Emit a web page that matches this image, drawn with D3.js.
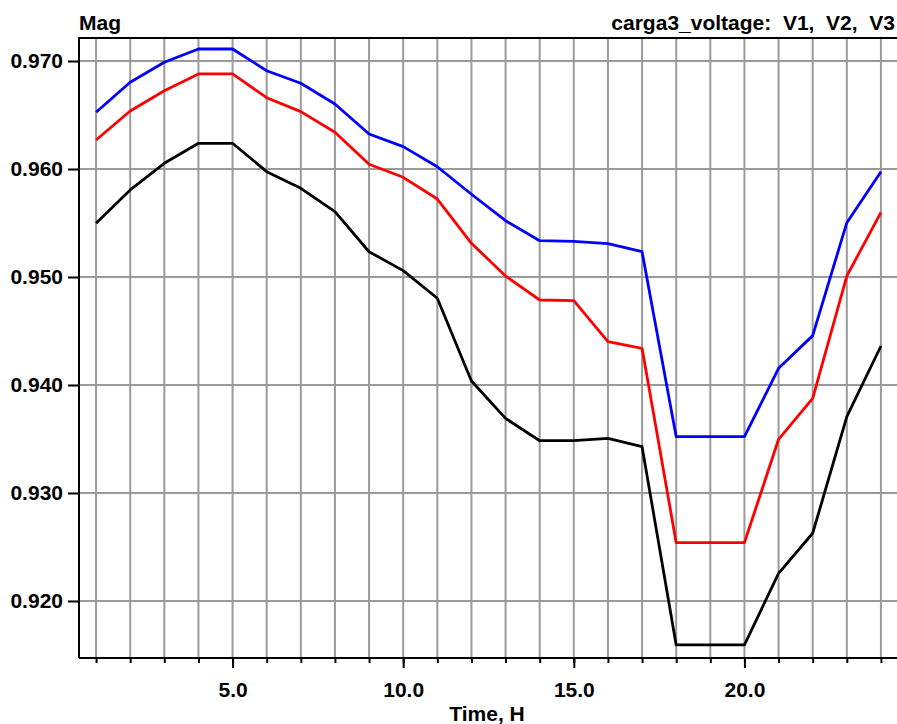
<!DOCTYPE html>
<html>
<head>
<meta charset="utf-8">
<script src="https://cdn.jsdelivr.net/npm/d3@7"></script>
<style>
  html, body { margin: 0; padding: 0; background: #fff; }
  svg { display: block; }
  text { font-family: "Liberation Sans", Arial, sans-serif; font-weight: bold; fill: #000; white-space: pre; }
</style>
</head>
<body>
<svg id="chart" width="897" height="724"></svg>
<script>
// ---- data ----
const hours = [1,2,3,4,5,6,7,8,9,10,11,12,13,14,15,16,17,18,19,20,21,22,23,24];
const v1 = [0.96525,0.96803,0.96988,0.97111,0.97111,0.96910,0.96794,0.96602,0.96324,0.96207,0.96021,0.95766,
            0.95521,0.95336,0.95330,0.95309,0.95234,0.93521,0.93521,0.93521,0.94154,0.94457,0.95503,0.95975];
const v2 = [0.96269,0.96537,0.96725,0.96880,0.96880,0.96660,0.96531,0.96340,0.96044,0.95923,0.95722,0.95312,
            0.95009,0.94787,0.94781,0.94401,0.94340,0.92540,0.92540,0.92540,0.93497,0.93877,0.95009,0.95599];
const v3 = [0.95497,0.95806,0.96053,0.96238,0.96238,0.95975,0.95821,0.95605,0.95234,0.95059,0.94803,0.94037,
            0.93691,0.93484,0.93484,0.93506,0.93429,0.91593,0.91593,0.91593,0.92256,0.92627,0.93707,0.94361];
const seriesNames = ["V1","V2","V3"];
const seriesColors = ["#0000ff","#ff0000","#000000"];
const yTicks = [0.920,0.930,0.940,0.950,0.960,0.970];
const xMajorTicks = [5,10,15,20];
const yLabel = "Mag";
const xLabel = "Time, H";
const title = "carga3_voltage:  V1,  V2,  V3";

// ---- layout ----
const L = 79, T = 38, R = 898, B = 658;
const svg = d3.select("#chart");
const x = d3.scaleLinear().domain([0.5, 24.5]).range([L, R]);
const y = d3.scaleLinear().domain([0.91472, 0.97213]).range([B, T]);

// grid
const grid = svg.append("g").attr("stroke", "#9a9a9a").attr("stroke-width", 2);
grid.selectAll("line.v").data(hours).enter().append("line")
  .attr("x1", d => x(d)).attr("x2", d => x(d)).attr("y1", T).attr("y2", B);
grid.selectAll("line.h").data(yTicks).enter().append("line")
  .attr("x1", L).attr("x2", R).attr("y1", d => y(d)).attr("y2", d => y(d));

// axes
const xAxisMinor = d3.axisBottom(x).tickValues(hours).tickSize(5).tickFormat("");
svg.append("g").attr("transform", `translate(0,${B})`).call(xAxisMinor)
  .call(g => g.select(".domain").remove())
  .call(g => g.selectAll("line").attr("stroke", "#000").attr("stroke-width", 2));
const xAxisMajor = d3.axisBottom(x).tickValues(xMajorTicks).tickSize(10).tickPadding(14)
  .tickFormat(d3.format(".1f"));
svg.append("g").attr("transform", `translate(0,${B})`).call(xAxisMajor)
  .call(g => g.select(".domain").remove())
  .call(g => g.selectAll("line").attr("stroke", "#000").attr("stroke-width", 2))
  .call(g => g.selectAll("text").attr("font-size", 21).attr("font-family", null).attr("fill", "#000").attr("dy", "0.71em"));

const yAxis = d3.axisLeft(y).tickValues(yTicks).tickSize(11).tickPadding(5).tickFormat(d3.format(".3f"));
svg.append("g").attr("transform", `translate(${L},0)`).call(yAxis)
  .call(g => g.select(".domain").remove())
  .call(g => g.selectAll("line").attr("stroke", "#000").attr("stroke-width", 2))
  .call(g => g.selectAll("text").attr("font-size", 21).attr("font-family", null).attr("fill", "#000"));

// frame
svg.append("path")
  .attr("d", `M${L},${B}H${R}M${L},${B}V${T}H${R}`)
  .attr("fill", "none").attr("stroke", "#000").attr("stroke-width", 2);

// lines
const line = d3.line().x((d, i) => x(hours[i])).y(d => y(d));
const allSeries = [v1, v2, v3];
svg.append("g").selectAll("path").data(allSeries).enter().append("path")
  .attr("d", d => line(d))
  .attr("fill", "none")
  .attr("stroke", (d, i) => seriesColors[i])
  .attr("stroke-width", 2.8)
  .attr("stroke-linejoin", "round");

// labels
svg.append("text").attr("x", L).attr("y", 30).attr("font-size", 21).text(yLabel);
svg.append("text").attr("x", 895).attr("y", 30).attr("font-size", 21).attr("text-anchor", "end")
  .attr("xml:space", "preserve").text(title);
svg.append("text").attr("x", 487).attr("y", 721).attr("font-size", 21).attr("text-anchor", "middle").text(xLabel);
</script>
</body>
</html>
